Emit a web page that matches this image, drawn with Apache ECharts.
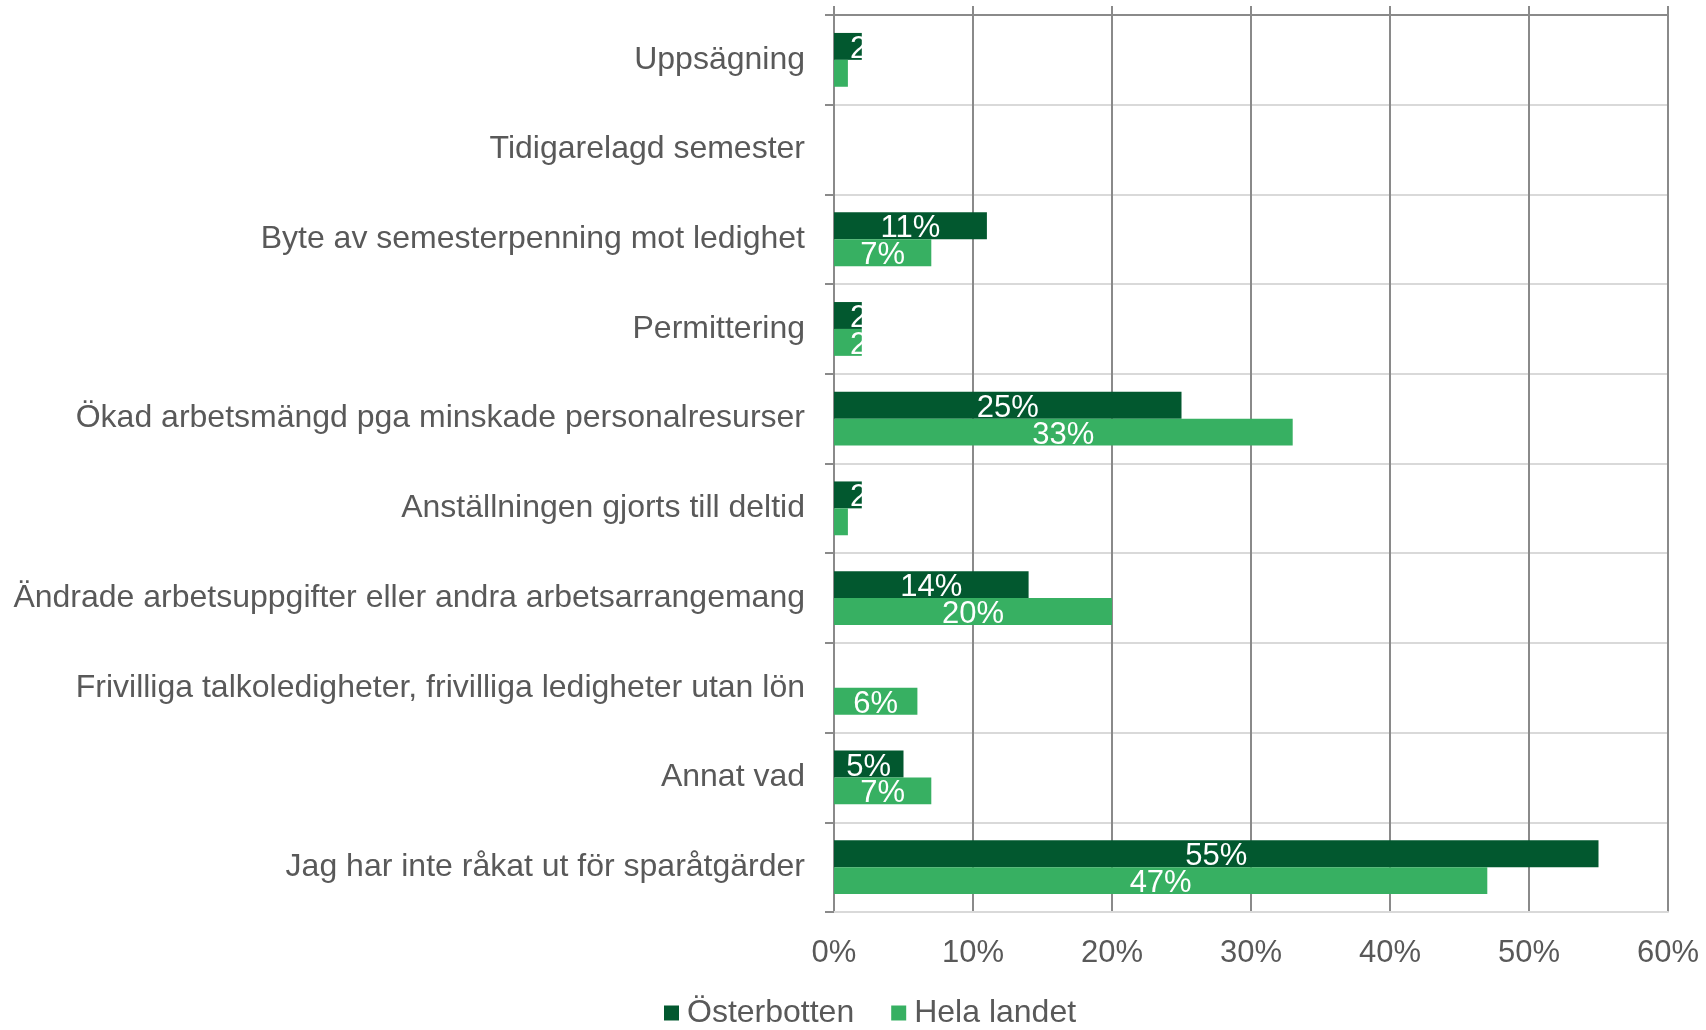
<!DOCTYPE html>
<html>
<head>
<meta charset="utf-8">
<script src="https://cdn.jsdelivr.net/npm/echarts@6/dist/echarts.min.js"></script>
<style>
  html, body { margin: 0; padding: 0; background: #fff; }
  #chart { width: 1706px; height: 1030px; }
</style>
</head>
<body>
<div id="chart"></div>
<script>
const categories = [
  'Uppsägning',
  'Tidigarelagd semester',
  'Byte av semesterpenning mot ledighet',
  'Permittering',
  'Ökad arbetsmängd pga minskade personalresurser',
  'Anställningen gjorts till deltid',
  'Ändrade arbetsuppgifter eller andra arbetsarrangemang',
  'Frivilliga talkoledigheter, frivilliga ledigheter utan lön',
  'Annat vad',
  'Jag har inte råkat ut för sparåtgärder'
]
const osterbotten = [2, 0, 11, 2, 25, 2, 14, 0, 5, 55]
const helaLandet = [1, 0, 7, 2, 33, 1, 20, 6, 7, 47]
const xTicks = [0, 10, 20, 30, 40, 50, 60]

const FONT = '"Liberation Sans", Arial, sans-serif'
const TEXT = '#595959'
const DARK_LINE = '#8a8a8a'
const LIGHT_LINE = '#d9d9d9'

// små staplar: etiketten hamnar vid vänsterkanten (som i Excel)
function toItems(values) {
  return values.map(function (v) {
    if (v > 0 && v < 4) {
      return { value: v, label: { position: 'insideLeft', distance: 16 } }
    }
    return v
  })
}

function barLabel() {
  return {
    show: true,
    position: 'inside',
    offset: [0, 3],
    color: '#fff',
    fontSize: 31,
    fontFamily: FONT,
    formatter: function (p) { return p.value ? p.value + '%' : '' }
  }
}

let chart = echarts.init(document.getElementById('chart'))
chart.setOption({
  animation: false,
  textStyle: { fontFamily: FONT },
  grid: {
    left: 834,
    right: 38,
    top: 15,
    bottom: 118,
    containLabel: false,
    outerBoundsMode: 'none'
  },
  legend: {
    left: 659,
    top: 992,
    itemWidth: 15,
    itemHeight: 15,
    itemGap: 37,
    icon: 'rect',
    textStyle: { color: TEXT, fontSize: 32, fontFamily: FONT, padding: [0, 0, 0, 3] },
    data: ['Österbotten', 'Hela landet']
  },
  xAxis: [{
    type: 'value',
    position: 'bottom',
    min: xTicks[0],
    max: xTicks[xTicks.length - 1],
    interval: 10,
    axisLine: { show: true, lineStyle: { color: LIGHT_LINE, width: 2 } },
    axisTick: { show: false },
    axisLabel: {
      color: TEXT,
      fontSize: 31,
      fontFamily: FONT,
      margin: 26,
      formatter: '{value}%'
    },
    splitLine: { show: true, lineStyle: { color: DARK_LINE, width: 2 } }
  }, {
    type: 'value',
    position: 'top',
    z: 5,
    min: xTicks[0],
    max: xTicks[xTicks.length - 1],
    interval: 10,
    axisLine: { show: true, lineStyle: { color: DARK_LINE, width: 2 } },
    axisTick: { show: true, length: 9, lineStyle: { color: DARK_LINE, width: 2 } },
    axisLabel: { show: false },
    splitLine: { show: false }
  }],
  yAxis: {
    type: 'category',
    inverse: true,
    data: categories,
    axisLine: { show: true, lineStyle: { color: DARK_LINE, width: 2 } },
    axisTick: { show: true, length: 9, lineStyle: { color: DARK_LINE, width: 2 } },
    axisLabel: {
      color: TEXT,
      fontSize: 32,
      fontFamily: FONT,
      margin: 29,
      padding: [8, 0, 0, 0]
    },
    splitLine: { show: true, lineStyle: { color: LIGHT_LINE, width: 2 } }
  },
  series: [{
    name: 'Österbotten',
    type: 'bar',
    xAxisIndex: 0,
    barCategoryGap: '40%',
    barGap: '0%',
    itemStyle: { color: '#02582f' },
    label: barLabel(),
    data: toItems(osterbotten)
  }, {
    name: 'Hela landet',
    type: 'bar',
    xAxisIndex: 0,
    barCategoryGap: '40%',
    barGap: '0%',
    itemStyle: { color: '#37b062' },
    label: barLabel(),
    data: toItems(helaLandet)
  }]
})
</script>
</body>
</html>
